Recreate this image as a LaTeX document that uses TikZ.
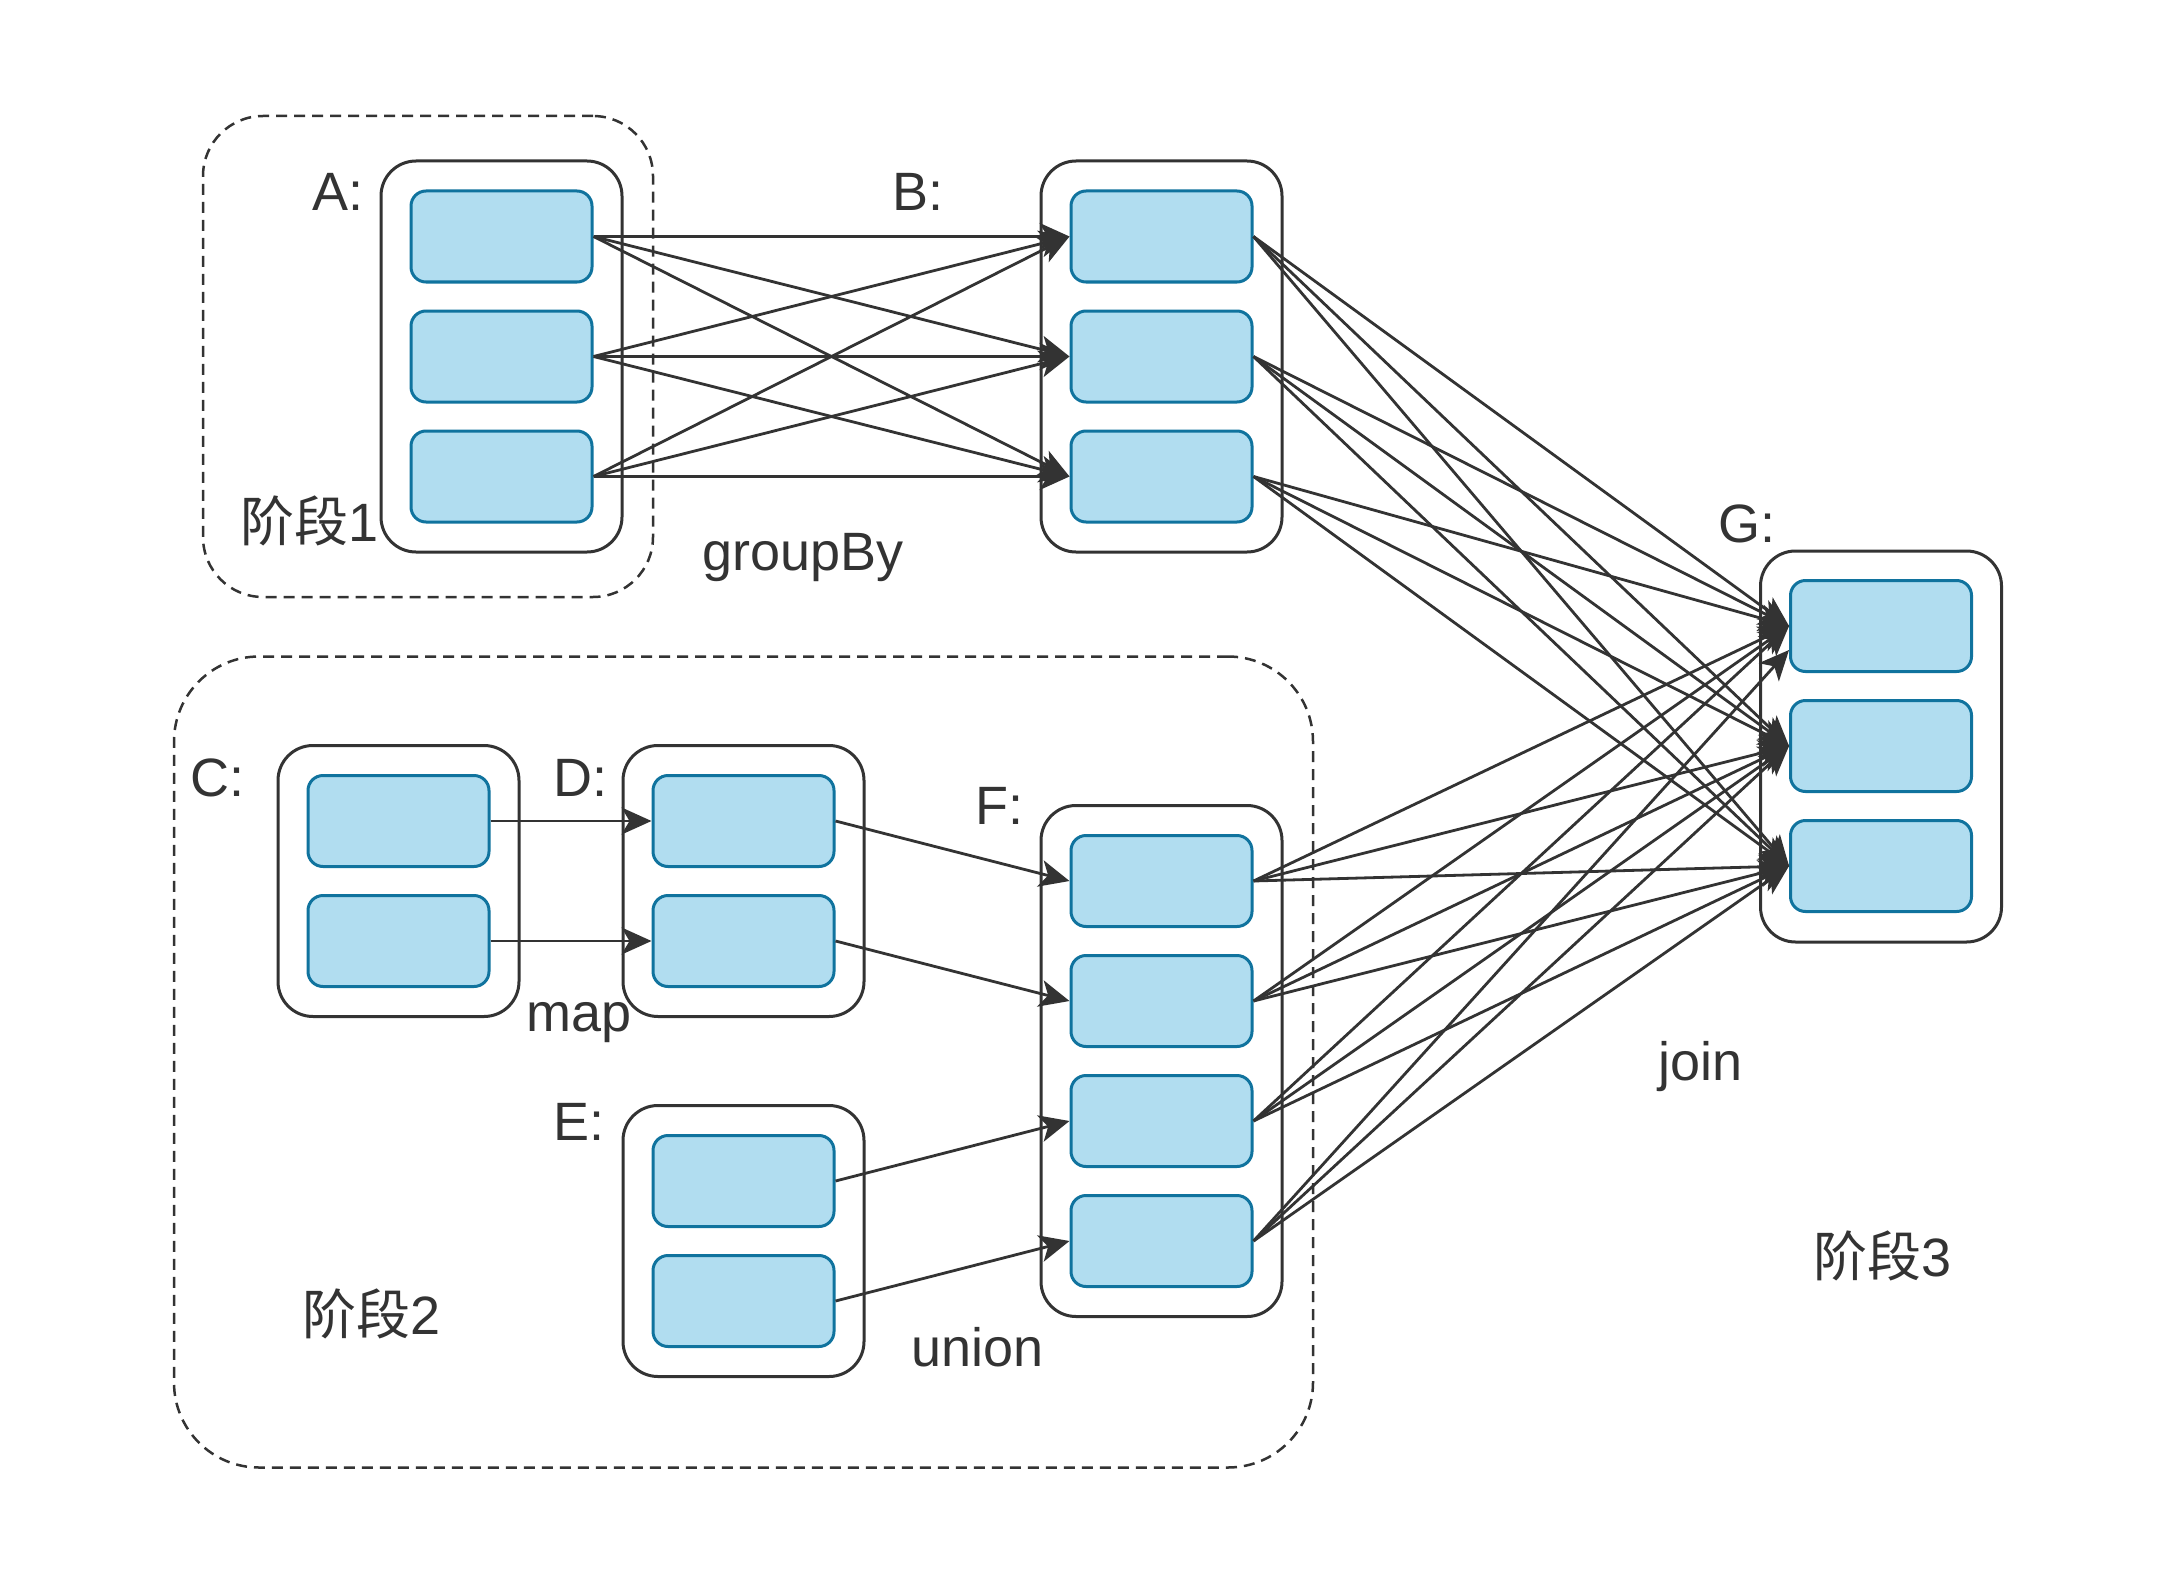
\documentclass[tikz,border=0pt]{standalone}
\usepackage{fontspec}
\setmainfont{Liberation Sans}
\newfontfamily\cjk{Noto Sans CJK SC}
\usetikzlibrary{arrows.meta}
\definecolor{ink}{HTML}{333333}
\definecolor{boxfill}{HTML}{B1DDF0}
\definecolor{boxline}{HTML}{10739E}
\begin{document}
\begin{tikzpicture}[x=1pt,y=-1pt,
  container/.style={draw=ink, line width=3pt, rounded corners=35pt, minimum width=241pt, fill=white, inner sep=0pt},
  cell/.style={draw=boxline, fill=boxfill, line width=3pt, rounded corners=15pt, minimum width=181pt, minimum height=91pt, inner sep=0pt},
  stage/.style={draw=ink, line width=2.5pt, dash pattern=on 11pt off 7pt, inner sep=0pt},
  lbl/.style={text=ink, font=\fontsize{54}{60}\selectfont, inner sep=0pt, anchor=base west},
  link/.style={draw=ink, line width=2.8pt, -{Stealth[length=30pt,width=27pt,inset=8pt]}}]
\useasboundingbox (0,0) rectangle (2170,1570);

% stage frames
\node[stage, rounded corners=60pt, minimum width=450pt, minimum height=481pt] (s1) at (428,356.5) {};
\node[stage, rounded corners=85pt, minimum width=1139pt, minimum height=811pt] (s2) at (743.5,1062) {};

% containers
\node[container, minimum height=391pt] (A) at (501.5,356.5) {};
\node[container, minimum height=391pt] (B) at (1161.5,356.5) {};
\node[container, minimum height=391pt] (G) at (1881,746.5) {};
\node[container, minimum height=271pt] (C) at (398.5,881) {};
\node[container, minimum height=271pt] (D) at (743.5,881) {};
\node[container, minimum height=271pt] (E) at (743.5,1241) {};
\node[container, minimum height=511pt] (F) at (1161.5,1061) {};

% cells
\foreach \i/\y in {1/236.5,2/356.5,3/476.5}{
  \node[cell] (A\i) at (501.5,\y) {};
  \node[cell] (B\i) at (1161.5,\y) {};
}
\foreach \i/\y in {1/626,2/746,3/866}{
  \node[cell] (G\i) at (1881,\y) {};
}
\foreach \i/\y in {1/821,2/941}{
  \node[cell] (C\i) at (398.5,\y) {};
  \node[cell] (D\i) at (743.5,\y) {};
}
\foreach \i/\y in {1/1181,2/1301}{
  \node[cell] (E\i) at (743.5,\y) {};
}
\foreach \i/\y in {1/881,2/1001,3/1121,4/1241}{
  \node[cell] (F\i) at (1161.5,\y) {};
}

% labels
\node[lbl] (tA) at (312,211) {A:};
\node[lbl] (tB) at (892,211) {B:};
\node[lbl] (tG) at (1718,542) {G:};
\node[lbl] (tC) at (190,796) {C:};
\node[lbl] (tD) at (553,796) {D:};
\node[lbl] (tF) at (975,824) {F:};
\node[lbl] (tE) at (553,1140) {E:};
\node[lbl] (st1) at (240,541) {{\cjk 阶段}1};
\node[lbl] (st2) at (302,1334) {{\cjk 阶段}2};
\node[lbl] (st3) at (1813,1276) {{\cjk 阶段}3};
\node[lbl] (op1) at (702,570) {groupBy};
\node[lbl] (op2) at (526,1031) {map};
\node[lbl] (op3) at (911,1366) {union};
\node[lbl] (op4) at (1658,1080) {join};

% connectors
\foreach \i in {1,2,3}{
  \foreach \j in {1,2,3}{
    \draw[link] (A\i.east) -- (B\j.west);
    \draw[link] (B\i.east) -- (G\j.west);
  }
}
\foreach \i in {1,2,3}{
  \foreach \j in {1,2,3}{
    \draw[link] (F\i.east) -- (G\j.west);
  }
}
\draw[link] (F4.east) -- ([yshift=-24pt]G1.west);
\draw[link] (F4.east) -- (G2.west);
\draw[link] (F4.east) -- (G3.west);
\draw[link] (C1.east) -- (D1.west);
\draw[link] (C2.east) -- (D2.west);
\draw[link] (D1.east) -- (F1.west);
\draw[link] (D2.east) -- (F2.west);
\draw[link] (E1.east) -- (F3.west);
\draw[link] (E2.east) -- (F4.west);
\end{tikzpicture}
\end{document}
